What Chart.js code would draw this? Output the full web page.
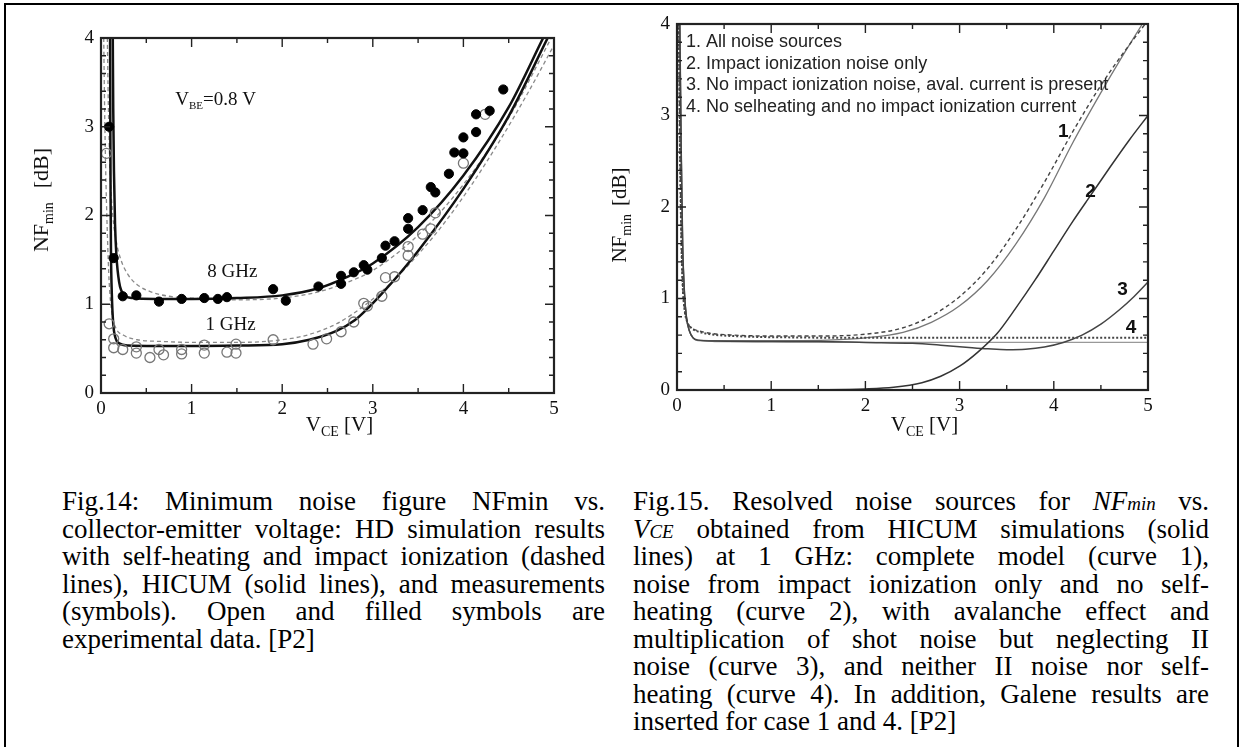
<!DOCTYPE html>
<html>
<head>
<meta charset="utf-8">
<script src="https://cdn.jsdelivr.net/npm/chart.js@4.4.0/dist/chart.umd.min.js"></script>
<style>
  body { margin: 0; background: #fff; width: 1241px; height: 747px; overflow: hidden; position: relative; }
  #frame { position: absolute; left: 4px; top: 3px; width: 1231px; height: 800px; border: 2px solid #000; }
  canvas { position: absolute; top: 0; }
  .caption { position: absolute; top: 488px; font-family: 'Liberation Serif', 'Times New Roman', serif; font-size: 27px; line-height: 27.5px; color: #000; }
  .caption div { white-space: nowrap; height: 27.5px; }
  .caption span { white-space: nowrap; display: inline-block; transform-origin: left center; }
  .caption small { font-size: 0.7em; }
</style>
</head>
<body>
<div id="frame"></div>
<canvas id="fig14" width="620" height="470" style="left:0"></canvas>
<canvas id="fig15" width="651" height="470" style="left:590px"></canvas>

<div class="caption" style="left:62px; width:543px">
  <div><span>Fig.14: Minimum noise figure NFmin vs.</span></div>
  <div><span>collector-emitter voltage: HD simulation results</span></div>
  <div><span>with self-heating and impact ionization (dashed</span></div>
  <div><span>lines), HICUM (solid lines), and measurements</span></div>
  <div><span>(symbols). Open and filled symbols are</span></div>
  <div class="last"><span>experimental data. [P2]</span></div>
</div>
<div class="caption" style="left:633px; width:576px">
  <div><span>Fig.15. Resolved noise sources for <i>NF<small>min</small></i> vs.</span></div>
  <div><span><i>V<small>CE</small></i> obtained from HICUM simulations (solid</span></div>
  <div><span>lines) at 1 GHz: complete model (curve 1),</span></div>
  <div><span>noise from impact ionization only and no self-</span></div>
  <div><span>heating (curve 2), with avalanche effect and</span></div>
  <div><span>multiplication of shot noise but neglecting II</span></div>
  <div><span>noise (curve 3), and neither II noise nor self-</span></div>
  <div><span>heating (curve 4). In addition, Galene results are</span></div>
  <div class="last"><span>inserted for case 1 and 4. [P2]</span></div>
</div>

<script>
// ---- Fig.14: NFmin vs VCE, VBE = 0.8 V ----
// HICUM (solid)
const hicum8 = [[0.13,4.0],[0.135,3.2],[0.143,2.5],[0.155,1.9],[0.17,1.55],[0.2,1.25],[0.25,1.11],[0.35,1.07],[0.6,1.06],[1.0,1.06],[1.5,1.07],[2.0,1.1],[2.4,1.18],[2.7,1.3],[3.0,1.46],[3.5,1.87],[4.0,2.45],[4.5,3.22],[4.88,4.0]];
const hicum1 = [[0.1,4.0],[0.103,3.0],[0.106,2.2],[0.11,1.6],[0.12,1.1],[0.135,0.78],[0.16,0.62],[0.2,0.56],[0.3,0.535],[0.6,0.53],[1.0,0.53],[1.5,0.535],[2.0,0.55],[2.3,0.6],[2.6,0.7],[2.8,0.82],[2.95,0.96],[3.1,1.12],[3.3,1.35],[3.5,1.6],[4.0,2.3],[4.5,3.12],[4.93,4.0]];
// HD simulation (dashed)
const hd8 = [[0.07,4.0],[0.08,3.3],[0.1,2.5],[0.13,2.0],[0.17,1.7],[0.22,1.5],[0.3,1.33],[0.4,1.22],[0.55,1.14],[0.75,1.09],[1.0,1.07],[1.5,1.05],[2.0,1.07],[2.4,1.14],[2.7,1.24],[3.0,1.38],[3.5,1.78],[4.0,2.35],[4.5,3.1],[4.97,4.0]];
const hd1 = [[0.03,4.0],[0.04,3.2],[0.05,2.6],[0.07,1.8],[0.09,1.25],[0.12,0.9],[0.16,0.74],[0.25,0.65],[0.4,0.6],[0.7,0.58],[1.0,0.57],[1.5,0.57],[2.0,0.6],[2.3,0.66],[2.6,0.78],[2.9,0.98],[3.2,1.24],[3.5,1.56],[3.8,1.93],[4.1,2.36],[4.4,2.84],[4.7,3.36],[5.0,3.92]];
// measurements: filled = 8 GHz, open = 1 GHz
const meas8 = [[0.09,3.0],[0.14,1.52],[0.24,1.09],[0.39,1.1],[0.64,1.03],[0.89,1.06],[1.14,1.07],[1.29,1.06],[1.39,1.08],[1.9,1.17],[2.04,1.04],[2.4,1.2],[2.65,1.32],[2.65,1.23],[2.79,1.36],[2.9,1.44],[2.94,1.39],[3.1,1.52],[3.14,1.66],[3.24,1.71],[3.39,1.97],[3.39,1.85],[3.55,2.06],[3.64,2.32],[3.69,2.26],[3.84,2.47],[3.9,2.71],[4.0,2.7],[4.0,2.88],[4.14,2.94],[4.14,3.14],[4.29,3.18],[4.44,3.42]];
const meas1 = [[0.06,2.7],[0.09,0.78],[0.14,0.61],[0.14,0.51],[0.24,0.49],[0.39,0.52],[0.39,0.45],[0.54,0.4],[0.64,0.49],[0.69,0.43],[0.89,0.49],[0.89,0.44],[1.14,0.54],[1.14,0.45],[1.39,0.46],[1.49,0.55],[1.49,0.45],[1.9,0.6],[2.34,0.55],[2.49,0.61],[2.65,0.69],[2.79,0.8],[2.9,1.01],[2.94,0.98],[3.1,1.09],[3.14,1.3],[3.24,1.31],[3.39,1.65],[3.39,1.55],[3.55,1.79],[3.64,1.85],[3.69,2.03],[4.0,2.59],[4.24,3.14]];

// ---- Fig.15: resolved noise sources at 1 GHz ----
const curve1 = [[0.03,4.0],[0.045,2.6],[0.06,1.6],[0.08,1.05],[0.1,0.8],[0.13,0.65],[0.17,0.57],[0.22,0.545],[0.4,0.54],[0.8,0.54],[1.2,0.54],[1.6,0.545],[2.0,0.57],[2.4,0.63],[2.7,0.74],[3.0,0.92],[3.3,1.2],[3.6,1.6],[3.9,2.1],[4.2,2.7],[4.5,3.25],[4.7,3.6],[4.94,4.0]];
const curve1Galene = [[0.02,4.0],[0.03,2.8],[0.045,1.7],[0.06,1.15],[0.08,0.88],[0.11,0.74],[0.15,0.68],[0.22,0.65],[0.35,0.62],[0.6,0.6],[1.0,0.59],[1.5,0.59],[2.0,0.61],[2.4,0.68],[2.7,0.81],[3.0,1.02],[3.3,1.33],[3.6,1.76],[3.9,2.27],[4.2,2.82],[4.5,3.33],[4.75,3.7],[4.97,4.0]];
const curve2 = [[0,0],[1.0,0],[1.5,0.003],[2.0,0.012],[2.3,0.03],[2.6,0.08],[2.8,0.15],[3.0,0.26],[3.2,0.42],[3.4,0.62],[3.6,0.9],[3.8,1.2],[4.0,1.52],[4.2,1.84],[4.4,2.14],[4.6,2.44],[4.8,2.73],[5.0,3.0]];
const curve3 = [[0.03,4.0],[0.045,2.6],[0.06,1.6],[0.08,1.05],[0.1,0.8],[0.13,0.65],[0.17,0.57],[0.22,0.545],[0.4,0.535],[1.0,0.53],[1.5,0.53],[2.0,0.52],[2.5,0.51],[2.8,0.49],[3.1,0.465],[3.3,0.45],[3.5,0.44],[3.7,0.445],[3.9,0.47],[4.1,0.52],[4.3,0.6],[4.5,0.72],[4.7,0.88],[4.85,1.02],[5.0,1.18]];
const curve4 = [[0.03,4.0],[0.045,2.6],[0.06,1.6],[0.08,1.05],[0.1,0.8],[0.13,0.65],[0.17,0.57],[0.22,0.54],[0.4,0.53],[1.0,0.525],[2.0,0.52],[3.0,0.52],[4.0,0.52],[5.0,0.52]];
const curve4Galene = [[0.02,4.0],[0.03,2.8],[0.045,1.7],[0.06,1.15],[0.08,0.88],[0.11,0.74],[0.15,0.68],[0.22,0.64],[0.35,0.61],[0.7,0.585],[1.2,0.575],[2.0,0.57],[3.0,0.57],[4.0,0.57],[5.0,0.57]];

const legendLines = ['1. All noise sources', '2. Impact ionization noise only', '3. No impact ionization noise, aval. current is present', '4. No selheating and no impact ionization current'];
const curveLabels = [['1',4.10,2.82],['2',4.39,2.17],['3',4.73,1.09],['4',4.82,0.68]];

const xTicks = [0, 1, 2, 3, 4, 5];
const yTicks = [0, 1, 2, 3, 4];

const SERIF = "'Liberation Serif', 'Times New Roman', serif";
const SANS = "'Liberation Sans', Arial, sans-serif";

function pts(arr){ return arr.map(p => ({x: p[0], y: p[1]})); }

// text made of pieces: {t, size, dy} for lowered subscripts, {gap} for extra space
function drawRich(ctx, parts, x, y, align){
  let w = 0;
  parts.forEach(p => {
    if (p.gap){ p.w = p.gap; }
    else { ctx.font = p.size + 'px ' + SERIF; p.w = ctx.measureText(p.t).width; }
    w += p.w;
  });
  let cx = align === 'center' ? x - w / 2 : x;
  ctx.textAlign = 'left';
  ctx.textBaseline = 'alphabetic';
  parts.forEach(p => {
    if (!p.gap){
      ctx.font = p.size + 'px ' + SERIF;
      ctx.fillText(p.t, cx, y + (p.dy || 0));
    }
    cx += p.w;
  });
}

// box around the plot with inward ticks on all four sides
const boxTicks = {
  id: 'boxTicks',
  afterDatasetsDraw(chart){
    const {ctx, chartArea: a, scales: {x, y}} = chart;
    ctx.save();
    ctx.strokeStyle = '#222';
    ctx.lineWidth = 1.4;
    ctx.beginPath();
    for (let i = 0; i <= 10; i++){
      const px = x.getPixelForValue(i * 0.5);
      const len = i % 2 === 0 ? 9 : 5;
      ctx.moveTo(px, a.bottom); ctx.lineTo(px, a.bottom - len);
      ctx.moveTo(px, a.top); ctx.lineTo(px, a.top + len);
    }
    for (let i = 0; i <= 20; i++){
      const py = y.getPixelForValue(i * 0.2);
      const len = i % 5 === 0 ? 9 : 5;
      ctx.moveTo(a.left, py); ctx.lineTo(a.left + len, py);
      ctx.moveTo(a.right, py); ctx.lineTo(a.right - len, py);
    }
    ctx.stroke();
    ctx.lineWidth = 2.2;
    ctx.strokeRect(a.left, a.top, a.right - a.left, a.bottom - a.top);
    ctx.restore();
  }
};

function axisTitles(t){
  return {
    id: 'axisTitles',
    afterDraw(chart){
      const {ctx, chartArea: a} = chart;
      ctx.save();
      ctx.fillStyle = '#111';
      drawRich(ctx, [{t:'V', size:21}, {t:'CE', size:14, dy:5}, {t:' [V]', size:21}], (a.left + a.right) / 2 + 12, 431, 'center');
      ctx.translate(t.x, t.y);
      ctx.rotate(-Math.PI / 2);
      drawRich(ctx, [{t:'NF', size:t.size}, {t:'min', size:14, dy:5}, {gap:t.gap}, {t:'[dB]', size:t.size}], 0, 7, 'center');
      ctx.restore();
    }
  };
}

function baseOptions(area, w, h){
  const tickFont = {family: SERIF, size: 19};
  return {
    responsive: false,
    animation: false,
    devicePixelRatio: 1,
    layout: {padding: {left: 0, top: area.top, right: w - area.right, bottom: 0}},
    plugins: {legend: {display: false}, tooltip: {enabled: false}},
    scales: {
      x: {
        type: 'linear', min: 0, max: 5,
        afterBuildTicks(s){ s.ticks = xTicks.map(v => ({value: v})); },
        afterFit(s){ s.height = h - area.bottom; },
        ticks: {font: tickFont, color: '#111', padding: 5, maxRotation: 0},
        grid: {display: false, drawTicks: false},
        border: {display: false}
      },
      y: {
        type: 'linear', min: 0, max: 4,
        afterBuildTicks(s){ s.ticks = yTicks.map(v => ({value: v})); },
        afterFit(s){ s.width = area.left; },
        ticks: {font: tickFont, color: '#111', padding: 7},
        grid: {display: false, drawTicks: false},
        border: {display: false}
      }
    }
  };
}

function curve(data, color, width, dash){
  return {data: pts(data), showLine: true, pointRadius: 0, borderColor: color, borderWidth: width,
          borderDash: dash || [], cubicInterpolationMode: 'monotone', fill: false};
}

// ---- Fig.14 ----
const opt14 = baseOptions({left: 101, right: 554, top: 38, bottom: 393}, 620, 470);
new Chart(document.getElementById('fig14'), {
  type: 'scatter',
  data: {
    datasets: [
      {data: pts(meas8), pointRadius: 4.6, pointBackgroundColor: '#000', pointBorderColor: '#000', pointBorderWidth: 1},
      {data: pts(meas1), pointRadius: 5, pointBackgroundColor: 'rgba(0,0,0,0)', pointBorderColor: '#777', pointBorderWidth: 1.3},
      curve(hicum8, '#111', 2.5),
      curve(hicum1, '#111', 2.5),
      curve(hd8, '#8a8a8a', 1.3, [4, 3]),
      curve(hd1, '#8a8a8a', 1.3, [4, 3])
    ]
  },
  options: opt14,
  plugins: [boxTicks, axisTitles({x: 41, y: 200, size: 22, gap: 14}), {
    id: 'notes14',
    afterDraw(chart){
      const {ctx, scales: {x, y}} = chart;
      ctx.save();
      ctx.fillStyle = '#111';
      drawRich(ctx, [{t:'V', size:19}, {t:'BE', size:11, dy:4}, {t:'=0.8 V', size:19}], x.getPixelForValue(0.82), y.getPixelForValue(3.31) + 6, 'left');
      drawRich(ctx, [{t:'8 GHz', size:19}], x.getPixelForValue(1.45), y.getPixelForValue(1.37) + 6, 'center');
      drawRich(ctx, [{t:'1 GHz', size:19}], x.getPixelForValue(1.43), y.getPixelForValue(0.78) + 6, 'center');
      ctx.restore();
    }
  }]
});

// ---- Fig.15 ----
const opt15 = baseOptions({left: 87, right: 558, top: 24, bottom: 390}, 651, 470);
new Chart(document.getElementById('fig15'), {
  type: 'scatter',
  data: {
    datasets: [
      curve(curve4Galene, '#444', 2, [2, 2]),
      curve(curve1Galene, '#444', 1.4, [4, 3]),
      curve(curve2, '#333', 1.5),
      curve(curve3, '#444', 1.5),
      curve(curve1, '#777', 1.3),
      curve(curve4, '#999', 1.3)
    ]
  },
  options: opt15,
  plugins: [boxTicks, axisTitles({x: 29, y: 215, size: 21, gap: 8}), {
    id: 'notes15',
    afterDraw(chart){
      const {ctx, chartArea: a, scales: {x, y}} = chart;
      ctx.save();
      ctx.fillStyle = '#222';
      ctx.textAlign = 'left';
      ctx.textBaseline = 'middle';
      ctx.font = '18px ' + SANS;
      legendLines.forEach((t, i) => ctx.fillText(t, a.left + 9, 42 + i * 21.7));
      ctx.font = 'bold 19px ' + SANS;
      ctx.textAlign = 'center';
      ctx.fillStyle = '#111';
      curveLabels.forEach(l => ctx.fillText(l[0], x.getPixelForValue(l[1]), y.getPixelForValue(l[2])));
      ctx.restore();
    }
  }]
});

// caption lines: each full line justified to the column width, squeezed only if too long
document.querySelectorAll('.caption div').forEach(line => {
  const span = line.firstElementChild;
  const W = line.clientWidth;
  const w = span.getBoundingClientRect().width;
  const gaps = (span.textContent.match(/ /g) || []).length;
  let k = 1;
  if (w > W) k = W / w;
  span.style.transform = 'scaleX(' + k + ')';
  if (!line.classList.contains('last') && gaps){
    span.style.wordSpacing = Math.max(0, (W / k - w) / gaps) + 'px';
  }
});
</script>
</body>
</html>
